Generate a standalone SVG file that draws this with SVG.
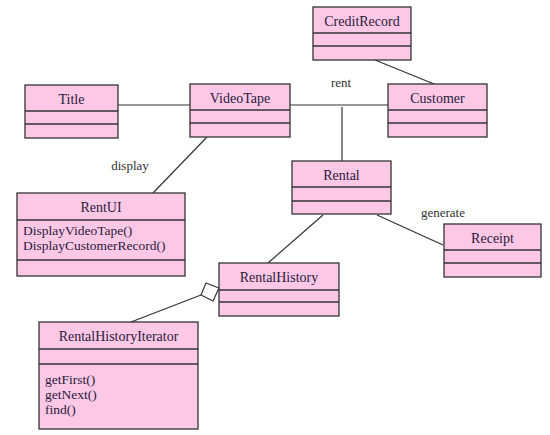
<svg xmlns="http://www.w3.org/2000/svg" width="550" height="435" viewBox="0 0 550 435">
<style>
.box{fill:#fdc8e6;stroke:#333;stroke-width:1.3}
.div{stroke:#333;stroke-width:1.3;fill:none}
.name{font-family:"Liberation Serif",serif;font-size:14px;fill:#2a1a3a;text-anchor:middle}
.m{font-family:"Liberation Serif",serif;font-size:13.5px;fill:#2a1a3a}
.lbl{font-family:"Liberation Serif",serif;font-size:13px;fill:#333;text-anchor:middle}
.conn line,.conn polygon{stroke:#333;stroke-width:1.2}
</style>
<rect width="550" height="435" fill="#fff"/>
<g id="connectors" class="conn">
<line x1="118" y1="105" x2="190" y2="105"/>
<line x1="290" y1="105" x2="388" y2="105"/>
<line x1="342" y1="107" x2="342" y2="161"/>
<line x1="375" y1="60" x2="434" y2="84"/>
<line x1="207" y1="137" x2="153" y2="193"/>
<line x1="377" y1="215" x2="443" y2="245"/>
<line x1="323" y1="215" x2="268" y2="263"/>
<line x1="201" y1="295" x2="131" y2="322"/>
<polygon points="206,283 219,288 213,301 201,295" fill="#fff"/>
<text class="lbl" x="341" y="87">rent</text>
<text class="lbl" x="130" y="170">display</text>
<text class="lbl" x="443" y="217">generate</text>
</g>
<g id="Title">
<rect class="box" x="25" y="85" width="93" height="53"/>
<line class="div" x1="25" y1="111" x2="118" y2="111"/>
<line class="div" x1="25" y1="124" x2="118" y2="124"/>
<text class="name" x="71.5" y="104">Title</text>
</g>
<g id="VideoTape">
<rect class="box" x="190" y="84" width="100" height="53"/>
<line class="div" x1="190" y1="110" x2="290" y2="110"/>
<line class="div" x1="190" y1="123" x2="290" y2="123"/>
<text class="name" x="240" y="103">VideoTape</text>
</g>
<g id="CreditRecord">
<rect class="box" x="313" y="7" width="98" height="53"/>
<line class="div" x1="313" y1="33" x2="411" y2="33"/>
<line class="div" x1="313" y1="46" x2="411" y2="46"/>
<text class="name" x="362" y="26">CreditRecord</text>
</g>
<g id="Customer">
<rect class="box" x="388" y="84" width="99" height="53"/>
<line class="div" x1="388" y1="110" x2="487" y2="110"/>
<line class="div" x1="388" y1="123" x2="487" y2="123"/>
<text class="name" x="437.5" y="103">Customer</text>
</g>
<g id="Rental">
<rect class="box" x="292" y="161" width="99" height="53"/>
<line class="div" x1="292" y1="187" x2="391" y2="187"/>
<line class="div" x1="292" y1="201" x2="391" y2="201"/>
<text class="name" x="341.5" y="180">Rental</text>
</g>
<g id="Receipt">
<rect class="box" x="444" y="224" width="97" height="53"/>
<line class="div" x1="444" y1="250" x2="541" y2="250"/>
<line class="div" x1="444" y1="263" x2="541" y2="263"/>
<text class="name" x="492.5" y="243">Receipt</text>
</g>
<g id="RentUI">
<rect class="box" x="17" y="193" width="168" height="83"/>
<line class="div" x1="17" y1="220" x2="185" y2="220"/>
<line class="div" x1="17" y1="260" x2="185" y2="260"/>
<text class="name" x="101" y="212">RentUI</text>
<text class="m" x="23" y="235">DisplayVideoTape()</text>
<text class="m" x="23" y="250">DisplayCustomerRecord()</text>
</g>
<g id="RentalHistory">
<rect class="box" x="219" y="263" width="120" height="53"/>
<line class="div" x1="219" y1="290" x2="339" y2="290"/>
<line class="div" x1="219" y1="302" x2="339" y2="302"/>
<text class="name" x="279" y="282">RentalHistory</text>
</g>
<g id="RentalHistoryIterator">
<rect class="box" x="39" y="322" width="159" height="107"/>
<line class="div" x1="39" y1="349" x2="198" y2="349"/>
<line class="div" x1="39" y1="364" x2="198" y2="364"/>
<text class="name" x="118.5" y="341">RentalHistoryIterator</text>
<text class="m" x="45" y="384">getFirst()</text>
<text class="m" x="45" y="399">getNext()</text>
<text class="m" x="45" y="414">find()</text>
</g>
</svg>
